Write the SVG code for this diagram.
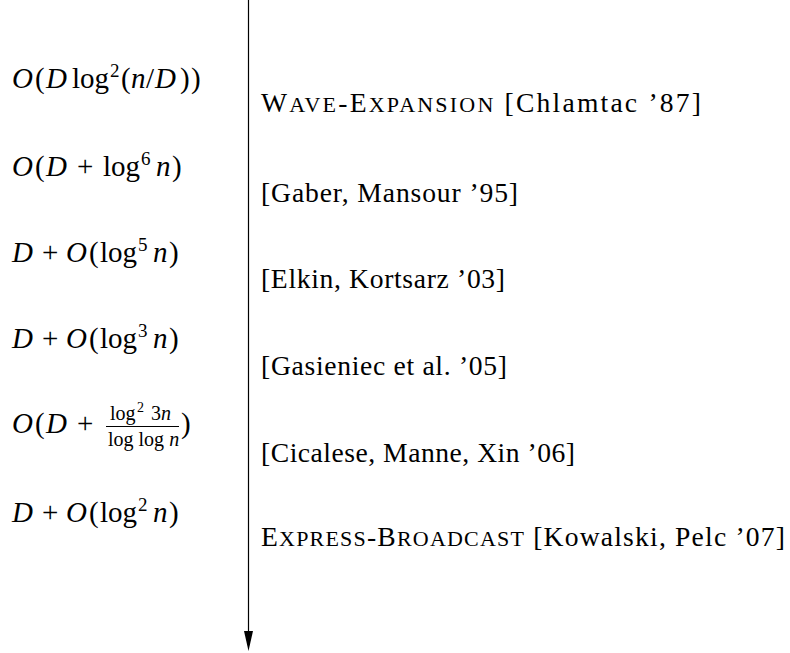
<svg xmlns="http://www.w3.org/2000/svg" width="790" height="653" viewBox="0 0 790 653">
<style>
.m{font-family:"Liberation Serif","DejaVu Serif",serif;font-size:29px;fill:#000}
.i{font-style:italic}
.s{font-size:19px}
.f{font-size:20px}
.fs{font-size:14px}
.lab{font-family:"Liberation Serif","DejaVu Serif",serif;font-size:27.6px;fill:#000}
.sc{font-size:22px}
.axis{stroke:#000;stroke-width:1.2;fill:none}
</style>
<defs>
<marker id="ah" markerUnits="userSpaceOnUse" markerWidth="20" markerHeight="10" viewBox="0 -5 20 10" refX="0" refY="0" orient="auto">
<path d="M0,-4.5 L20,0 L0,4.5 z" fill="#000"/>
</marker>
</defs>
<rect width="790" height="653" fill="#fff"/>
<g id="connectors">
<line class="axis" x1="248.5" y1="0" x2="248.5" y2="631" marker-end="url(#ah)"/>
</g>
<g id="bound-1">
<text class="m" y="88"><tspan class="i" x="12">O</tspan><tspan x="35">(</tspan><tspan class="i" x="46">D</tspan><tspan x="72">log</tspan><tspan class="s" x="110" dy="-11">2</tspan><tspan x="121" dy="11">(</tspan><tspan class="i" x="131">n</tspan><tspan x="146">/</tspan><tspan class="i" x="155">D</tspan><tspan x="180">)</tspan><tspan x="191">)</tspan></text>
</g>
<g id="ref-1">
<text class="lab" x="261" y="112" textLength="440" lengthAdjust="spacing">W<tspan class="sc">AVE</tspan>-E<tspan class="sc">XPANSION</tspan> [Chlamtac ’87]</text>
</g>
<g id="bound-2">
<text class="m" y="176"><tspan class="i" x="12">O</tspan><tspan x="35">(</tspan><tspan class="i" x="46">D</tspan><tspan x="77">+</tspan><tspan x="103">log</tspan><tspan class="s" x="141" dy="-11">6</tspan><tspan class="i" x="156" dy="11">n</tspan><tspan x="172">)</tspan></text>
</g>
<g id="ref-2">
<text class="lab" x="261" y="202" textLength="257" lengthAdjust="spacing">[Gaber, Mansour ’95]</text>
</g>
<g id="bound-3">
<text class="m" y="262"><tspan class="i" x="12">D</tspan><tspan x="42">+</tspan><tspan class="i" x="66">O</tspan><tspan x="89">(</tspan><tspan x="100">log</tspan><tspan class="s" x="138" dy="-11">5</tspan><tspan class="i" x="153" dy="11">n</tspan><tspan x="169">)</tspan></text>
</g>
<g id="ref-3">
<text class="lab" x="261" y="288" textLength="244" lengthAdjust="spacing">[Elkin, Kortsarz ’03]</text>
</g>
<g id="bound-4">
<text class="m" y="348"><tspan class="i" x="12">D</tspan><tspan x="42">+</tspan><tspan class="i" x="66">O</tspan><tspan x="89">(</tspan><tspan x="100">log</tspan><tspan class="s" x="138" dy="-11">3</tspan><tspan class="i" x="153" dy="11">n</tspan><tspan x="169">)</tspan></text>
</g>
<g id="ref-4">
<text class="lab" x="261" y="375" textLength="246" lengthAdjust="spacing">[Gasieniec et al. ’05]</text>
</g>
<g id="bound-5">
<text class="m" y="433"><tspan class="i" x="12">O</tspan><tspan x="35">(</tspan><tspan class="i" x="46">D</tspan><tspan x="77">+</tspan><tspan x="181">)</tspan></text>
<text class="m f" y="420"><tspan x="110">log</tspan><tspan class="fs" x="137" dy="-8">2</tspan><tspan x="151" dy="8">3</tspan><tspan class="i" x="161">n</tspan></text>
<line x1="106" y1="426.5" x2="179" y2="426.5" stroke="#000" stroke-width="1"/>
<text class="m f" y="446"><tspan x="108">log log </tspan><tspan class="i">n</tspan></text>
</g>
<g id="ref-5">
<text class="lab" x="261" y="462" textLength="314" lengthAdjust="spacing">[Cicalese, Manne, Xin ’06]</text>
</g>
<g id="bound-6">
<text class="m" y="522"><tspan class="i" x="12">D</tspan><tspan x="42">+</tspan><tspan class="i" x="66">O</tspan><tspan x="89">(</tspan><tspan x="100">log</tspan><tspan class="s" x="138" dy="-11">2</tspan><tspan class="i" x="153" dy="11">n</tspan><tspan x="169">)</tspan></text>
</g>
<g id="ref-6">
<text class="lab" x="261" y="546" textLength="524" lengthAdjust="spacing">E<tspan class="sc">XPRESS</tspan>-B<tspan class="sc">ROADCAST</tspan> [Kowalski, Pelc ’07]</text>
</g>
</svg>
